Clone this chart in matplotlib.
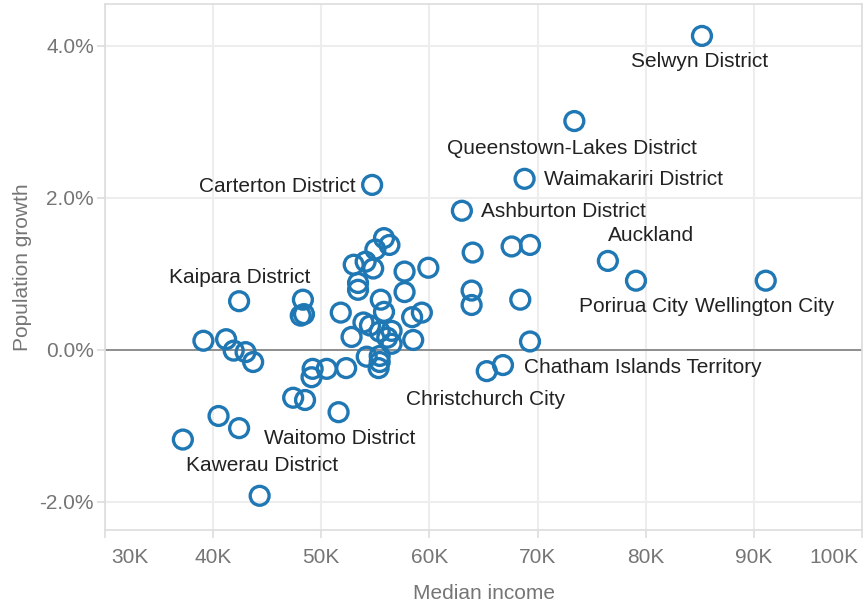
import matplotlib
matplotlib.use("Agg")
import matplotlib.pyplot as plt
from matplotlib.ticker import FuncFormatter
from matplotlib.transforms import ScaledTranslation


# median income (thousands NZD) and population growth (%) per territorial authority
income = [
    85.2, 73.4, 68.8, 63.0, 54.7, 76.5, 79.1, 91.1, 64.0, 67.6,
    69.3, 63.9, 63.9, 68.4, 69.3, 65.3, 66.8, 42.4, 48.3, 48.1,
    48.4, 39.1, 41.2, 41.9, 43.0, 43.7, 49.2, 49.1, 50.5, 47.4,
    48.5, 40.5, 42.4, 37.2, 44.3, 51.6, 55.8, 56.3, 55.0, 53.0,
    54.1, 54.8, 57.7, 59.9, 53.4, 53.4, 57.7, 55.5, 55.8, 51.8,
    58.4, 59.3, 53.9, 54.5, 52.8, 55.4, 56.5, 56.1, 56.5, 58.5,
    54.2, 55.4, 55.4, 55.3, 52.3,
]
growth = [
    4.13, 3.01, 2.25, 1.83, 2.17, 1.17, 0.91, 0.91, 1.28, 1.36,
    1.38, 0.78, 0.59, 0.66, 0.11, -0.28, -0.20, 0.64, 0.66, 0.45,
    0.47, 0.12, 0.14, -0.01, -0.03, -0.16, -0.25, -0.36, -0.25, -0.63,
    -0.66, -0.87, -1.03, -1.18, -1.92, -0.82, 1.47, 1.38, 1.32, 1.12,
    1.16, 1.07, 1.03, 1.08, 0.88, 0.79, 0.76, 0.66, 0.50, 0.49,
    0.43, 0.49, 0.36, 0.32, 0.17, 0.24, 0.25, 0.16, 0.08, 0.13,
    -0.09, -0.08, -0.16, -0.24, -0.24,
]

# labelled points: index into the arrays above
label_names = [
    "Selwyn District", "Queenstown-Lakes District", "Waimakariri District",
    "Ashburton District", "Carterton District", "Auckland", "Porirua City",
    "Wellington City", "Kaipara District", "Chatham Islands Territory",
    "Christchurch City", "Waitomo District", "Kawerau District",
]
label_index = [0, 1, 2, 3, 4, 5, 6, 7, 17, 16, 15, 35, 34]
# (dx, dy) in pixels, horizontal alignment
label_style = [
    (-2, -26, "center"), (-2, -27, "center"), (19, -1, "left"),
    (19, -1, "left"), (-16, -2, "right"), (43, 25, "center"),
    (-2, -26, "center"), (-1, -26, "center"), (1, 24, "center"),
    (21, -2, "left"), (-1, -28, "center"), (1, -26, "center"),
    (2, 30, "center"),
]

x_ticks = [30, 40, 50, 60, 70, 80, 90, 100]
y_ticks = [-2, 0, 2, 4]

plt.rcParams["font.family"] = ["Liberation Sans", "DejaVu Sans"]

BLUE = "#1f77b4"
TICK_GRAY = "#757575"
LINE_GRAY = "#dddddd"
GRID_GRAY = "#ededed"

fig = plt.figure(figsize=(8.63, 6.06), dpi=100)
ax = fig.add_axes([105 / 863, 1 - 530 / 606, 757 / 863, 526 / 606])

ax.set_xlim(30, 100)
ax.set_ylim(-2.37, 4.55)

ax.set_xticks(x_ticks)
ax.set_yticks(y_ticks)
ax.xaxis.set_major_formatter(FuncFormatter(lambda v, p: "%dK" % v))
ax.yaxis.set_major_formatter(FuncFormatter(lambda v, p: "%.1f%%" % v))

ax.grid(True, color=GRID_GRAY, linewidth=1.5, zorder=0)
ax.set_axisbelow(True)
ax.axhline(0, color="#888888", linewidth=1.3, zorder=1)

for s in ax.spines.values():
    s.set_color(LINE_GRAY)
    s.set_linewidth(1.2)

ax.tick_params(axis="both", colors=LINE_GRAY, labelcolor=TICK_GRAY,
               labelsize=15, length=6, width=1.2)
ax.tick_params(axis="x", pad=7)
ax.tick_params(axis="y", pad=2)

# keep the end labels inside the plot width
xlabels = ax.get_xticklabels()
xlabels[0].set_horizontalalignment("left")
xlabels[0].set_transform(xlabels[0].get_transform()
                         + ScaledTranslation(0.06, 0, fig.dpi_scale_trans))
xlabels[-1].set_horizontalalignment("right")
xlabels[-1].set_transform(xlabels[-1].get_transform()
                          + ScaledTranslation(-0.04, 0, fig.dpi_scale_trans))

ax.scatter(income, growth, s=185, facecolors="none", edgecolors=BLUE,
           linewidths=2.4, zorder=3)

for name, i, (dx, dy, ha) in zip(label_names, label_index, label_style):
    ax.annotate(name, (income[i], growth[i]), xytext=(dx, dy),
                textcoords="offset pixels", ha=ha, va="center",
                fontsize=15, color="#222222", zorder=4)

ax.set_xlabel("Median income", fontsize=15, color=TICK_GRAY, labelpad=12)
ax.set_ylabel("Population growth", fontsize=15, color=TICK_GRAY, labelpad=5)

fig.savefig("out.png", dpi=100)
